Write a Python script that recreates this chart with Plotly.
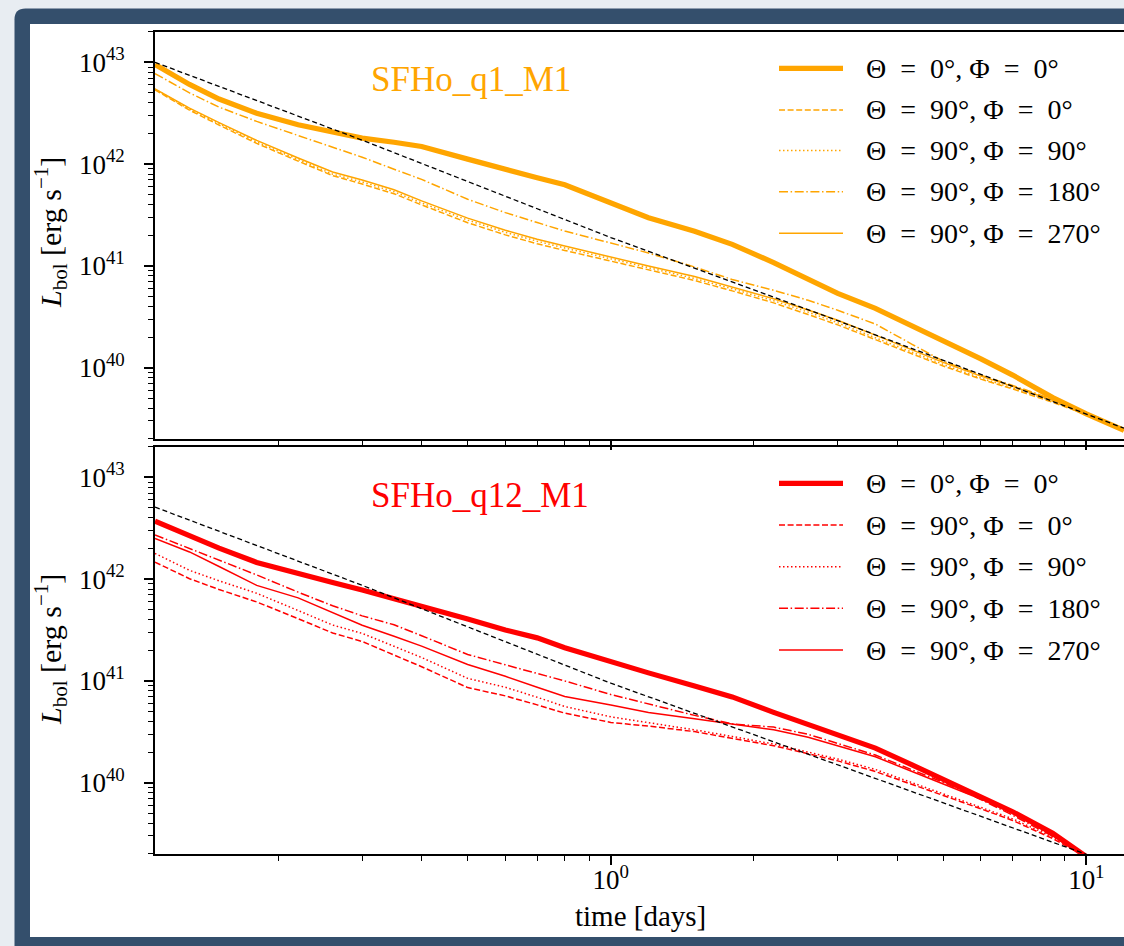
import math
import plotly.graph_objects as go

# ---------------- data ----------------
# time grid [days]
t_days = [0.11, 0.13, 0.15, 0.18, 0.22, 0.26, 0.3, 0.35, 0.4, 0.5, 0.6, 0.7, 0.8, 1.0,
          1.2, 1.5, 1.8, 2.2, 2.6, 3.0, 3.6, 4.3, 5.0, 6.0, 7.0, 8.5, 10.0, 12.0]
t_days_q12 = t_days[:-1]

# SFHo_q1_M1 bolometric luminosities [erg/s]
q1_th0_ph0 = [9.55e42, 6.07e42, 4.36e42, 3.16e42, 2.44e42, 2.07e42, 1.80e42, 1.64e42, 1.49e42, 1.12e42,
              8.77e41, 7.35e41, 6.27e41, 4.19e41, 2.98e41, 2.19e41, 1.63e41, 1.08e41, 7.35e40, 5.37e40,
              3.83e40, 2.60e40, 1.85e40, 1.22e40, 8.47e39, 5.09e39, 3.53e39, 2.43e39]
q1_th90_ph0 = [5.37e42, 3.39e42, 2.42e42, 1.60e42, 1.07e42, 7.72e41, 6.38e41, 5.12e41, 3.98e41, 2.66e41,
               2.02e41, 1.65e41, 1.42e41, 1.11e41, 9.10e40, 7.20e40, 5.69e40, 4.34e40, 3.33e40, 2.64e40,
               1.89e40, 1.36e40, 1.04e40, 7.73e39, 6.19e39, 4.57e39, 3.47e39, 2.40e39]
q1_th90_ph90 = [5.44e42, 3.47e42, 2.50e42, 1.65e42, 1.11e42, 7.98e41, 6.69e41, 5.36e41, 4.16e41, 2.82e41,
                2.14e41, 1.75e41, 1.50e41, 1.17e41, 9.53e40, 7.53e40, 5.96e40, 4.55e40, 3.52e40, 2.77e40,
                1.97e40, 1.41e40, 1.08e40, 7.91e39, 6.34e39, 4.68e39, 3.51e39, 2.43e39]
q1_th90_ph180 = [7.76e42, 5.01e42, 3.63e42, 2.63e42, 1.91e42, 1.48e42, 1.17e42, 8.91e41, 7.08e41, 4.52e41,
                 3.34e41, 2.67e41, 2.20e41, 1.68e41, 1.34e41, 9.77e40, 7.35e40, 5.77e40, 4.60e40, 3.67e40,
                 2.69e40, 1.70e40, 1.16e40, 8.47e39, 6.71e39, 4.90e39, 3.63e39, 2.45e39]
q1_th90_ph270 = [5.50e42, 3.55e42, 2.56e42, 1.71e42, 1.15e42, 8.36e41, 7.00e41, 5.61e41, 4.36e41, 2.95e41,
                 2.24e41, 1.83e41, 1.57e41, 1.22e41, 9.98e40, 7.89e40, 6.24e40, 4.76e40, 3.69e40, 2.93e40,
                 2.09e40, 1.49e40, 1.13e40, 8.28e39, 6.56e39, 4.79e39, 3.55e39, 2.43e39]

# SFHo_q12_M1 bolometric luminosities [erg/s]
q12_th0_ph0 = [3.72e42, 2.64e42, 2.02e42, 1.46e42, 1.12e42, 9.25e41, 7.82e41, 6.47e41, 5.40e41, 4.06e41,
               3.17e41, 2.65e41, 2.12e41, 1.53e41, 1.20e41, 8.93e40, 6.97e40, 4.91e40, 3.70e40, 2.95e40,
               2.19e40, 1.50e40, 1.08e40, 7.23e39, 5.19e39, 3.19e39, 1.88e39]
q12_th90_ph0 = [1.47e42, 1.01e42, 7.91e41, 5.97e41, 4.09e41, 2.96e41, 2.44e41, 1.81e41, 1.38e41, 8.61e40,
                7.13e40, 5.82e40, 4.83e40, 3.91e40, 3.60e40, 3.18e40, 2.74e40, 2.31e40, 1.93e40, 1.64e40,
                1.29e40, 9.66e39, 7.55e39, 5.55e39, 4.26e39, 2.83e39, 1.86e39]
q12_th90_ph90 = [1.79e42, 1.22e42, 9.62e41, 7.26e41, 4.92e41, 3.54e41, 2.93e41, 2.20e41, 1.70e41, 1.06e41,
                 8.67e40, 6.92e40, 5.61e40, 4.44e40, 3.90e40, 3.31e40, 2.85e40, 2.40e40, 2.00e40, 1.71e40,
                 1.35e40, 1.00e40, 7.85e39, 5.77e39, 4.42e39, 2.93e39, 1.88e39]
q12_th90_ph180 = [2.72e42, 2.01e42, 1.55e42, 1.10e42, 7.45e41, 5.48e41, 4.36e41, 3.56e41, 2.78e41, 1.82e41,
                  1.44e41, 1.19e41, 1.00e41, 7.35e40, 5.92e40, 4.59e40, 3.78e40, 3.52e40, 2.99e40, 2.44e40,
                  1.87e40, 1.34e40, 1.01e40, 6.85e39, 4.80e39, 2.97e39, 1.91e39]
q12_th90_ph270 = [2.51e42, 1.85e42, 1.33e42, 8.69e41, 6.55e41, 4.70e41, 3.52e41, 2.75e41, 2.20e41, 1.45e41,
                  1.11e41, 8.67e40, 7.03e40, 5.79e40, 4.91e40, 4.26e40, 3.75e40, 3.31e40, 2.80e40, 2.31e40,
                  1.80e40, 1.29e40, 9.70e39, 6.90e39, 5.19e39, 3.01e39, 1.91e39]

# reference power-law guides (black dashed)
ref_t_q1 = [0.11, 0.3, 1.0, 3.0, 12.0]
ref_L_q1 = [1.0e43, 1.72e42, 1.9e41, 2.9e40, 2.55e39]
ref_t_q12 = [0.11, 0.3, 1.0, 3.0, 10.0]
ref_L_q12 = [5.1e42, 8.7e41, 9.5e40, 1.5e40, 1.98e39]

model_names = ["SFHo_q1_M1", "SFHo_q12_M1"]
view_labels = ["Θ\u2002=\u20020°, Φ\u2002=\u20020°", "Θ\u2002=\u200290°, Φ\u2002=\u20020°",
               "Θ\u2002=\u200290°, Φ\u2002=\u200290°", "Θ\u2002=\u200290°, Φ\u2002=\u2002180°",
               "Θ\u2002=\u200290°, Φ\u2002=\u2002270°"]
y_tick_vals = [1e40, 1e41, 1e42, 1e43]
y_tick_text = ["10<sup>40</sup>", "10<sup>41</sup>", "10<sup>42</sup>", "10<sup>43</sup>"]
x_tick_vals = [1, 10]
x_tick_text = ["10<sup>0</sup>", "10<sup>1</sup>"]

# ---------------- styling ----------------
W, H = 1124, 946
SERIF = "Liberation Serif, Times New Roman, serif"
ORANGE = "#FFA500"
RED = "#FF0000"
DASH = "6px,2.6px"
DOT = "1.5px,2.5px"
DASHDOT = "9px,2.6px,1.5px,2.6px"
styles = [(5.2, "solid"), (1.5, DASH), (1.5, DOT), (1.5, DASHDOT), (1.5, "solid")]


def px_x(v):
    return v / W


def px_y(v):
    return 1 - v / H


x_dom = [px_x(155), 1.0]
top_dom = [px_y(438.9), px_y(31.7)]
bot_dom = [px_y(853.9), px_y(446.7)]

fig = go.Figure()

panels = [
    ("x", "y", ORANGE, t_days,
     [q1_th0_ph0, q1_th90_ph0, q1_th90_ph90, q1_th90_ph180, q1_th90_ph270],
     ref_t_q1, ref_L_q1),
    ("x2", "y2", RED, t_days_q12,
     [q12_th0_ph0, q12_th90_ph0, q12_th90_ph90, q12_th90_ph180, q12_th90_ph270],
     ref_t_q12, ref_L_q12),
]

for xa, ya, col, tt, series, rt, rl in panels:
    for (lw, dash), lab, vals in zip(styles, view_labels, series):
        fig.add_trace(go.Scatter(x=tt, y=vals, mode="lines", name=lab, showlegend=False,
                                 line=dict(color=col, width=lw, dash=dash),
                                 xaxis=xa, yaxis=ya, hoverinfo="skip"))
    fig.add_trace(go.Scatter(x=rt, y=rl, mode="lines", showlegend=False,
                             line=dict(color="black", width=1.3, dash="5px,3px"),
                             xaxis=xa, yaxis=ya, hoverinfo="skip"))

axis_common = dict(type="log", showline=True, linecolor="black", linewidth=1.6,
                   ticks="outside", ticklen=9, tickwidth=1.6, tickcolor="black",
                   showgrid=False, zeroline=False,
                   tickfont=dict(family=SERIF, size=27, color="black"),
                   minor=dict(ticks="outside", ticklen=5, tickwidth=1.1,
                              tickcolor="black", dtick="D1", showgrid=False))

x_range = [math.log10(0.11), math.log10(12)]
y_range = [math.log10(2e39), math.log10(2e43)]

fig.update_layout(
    width=W, height=H,
    margin=dict(l=0, r=0, t=0, b=0),
    paper_bgcolor="#e8edf2", plot_bgcolor="rgba(0,0,0,0)",
    showlegend=False,
    xaxis=dict(axis_common, domain=x_dom, anchor="y", range=x_range, mirror=True,
               tickmode="array", tickvals=x_tick_vals, showticklabels=False),
    yaxis=dict(axis_common, domain=top_dom, anchor="x", range=y_range,
               tickmode="array", tickvals=y_tick_vals, ticktext=y_tick_text,
               ticklabelstandoff=14),
    xaxis2=dict(axis_common, domain=x_dom, anchor="y2", range=x_range, mirror=True,
                tickmode="array", tickvals=x_tick_vals, ticktext=x_tick_text,
                ticklabelstandoff=-8),
    yaxis2=dict(axis_common, domain=bot_dom, anchor="x2", range=y_range,
                tickmode="array", tickvals=y_tick_vals, ticktext=y_tick_text,
                ticklabelstandoff=14),
)

# page frame: light page, dark rounded border, white panel
r = 11
frame_path = (f"M {px_x(14.5)},{px_y(980)} L {px_x(14.5)},{px_y(8.5 + r)} "
              f"Q {px_x(14.5)},{px_y(8.5)} {px_x(14.5 + r)},{px_y(8.5)} "
              f"L {px_x(1160)},{px_y(8.5)} L {px_x(1160)},{px_y(980)} Z")
shapes = [
    dict(type="path", xref="paper", yref="paper", path=frame_path,
         fillcolor="#344f6c", line=dict(width=0), layer="below"),
    dict(type="rect", xref="paper", yref="paper", x0=px_x(30), x1=px_x(1160),
         y0=px_y(937), y1=px_y(24), fillcolor="white", line=dict(width=0), layer="below"),
]

# hand-placed legends (long line samples)
legend_rows = {"y": [68.3, 110, 150.5, 191.7, 233.3],
               "y2": [483.3, 525, 566.7, 608.3, 650]}
annotations = []
for (xa, ya, col, *_rest) in panels:
    for (lw, dash), lab, row in zip(styles, view_labels, legend_rows[ya]):
        shapes.append(dict(type="line", xref="paper", yref="paper",
                           x0=px_x(779), x1=px_x(843), y0=px_y(row), y1=px_y(row),
                           line=dict(color=col, width=lw, dash=dash)))
        annotations.append(dict(xref="paper", yref="paper", x=px_x(864), y=px_y(row),
                                text=lab, showarrow=False, xanchor="left", yanchor="middle",
                                font=dict(family=SERIF, size=28, color="black")))

# model names
annotations.append(dict(xref="paper", yref="paper", x=px_x(369), y=px_y(80),
                        text=model_names[0], showarrow=False, xanchor="left", yanchor="middle",
                        font=dict(family=SERIF, size=35, color=ORANGE)))
annotations.append(dict(xref="paper", yref="paper", x=px_x(369), y=px_y(495),
                        text=model_names[1], showarrow=False, xanchor="left", yanchor="middle",
                        font=dict(family=SERIF, size=35, color=RED)))

# axis titles
ylab = "<i>L</i><sub>bol</sub> [erg s<sup>−1</sup>]"
for yc in (233, 650):
    annotations.append(dict(xref="paper", yref="paper", x=px_x(50), y=px_y(yc), text=ylab,
                            showarrow=False, textangle=-90, xanchor="center", yanchor="middle",
                            font=dict(family=SERIF, size=30, color="black")))
annotations.append(dict(xref="paper", yref="paper", x=px_x(640), y=px_y(916),
                        text="time [days]", showarrow=False, xanchor="center", yanchor="middle",
                        font=dict(family=SERIF, size=29, color="black")))

fig.update_layout(shapes=shapes, annotations=annotations)

fig.write_html("out.html", config={"displayModeBar": False})
